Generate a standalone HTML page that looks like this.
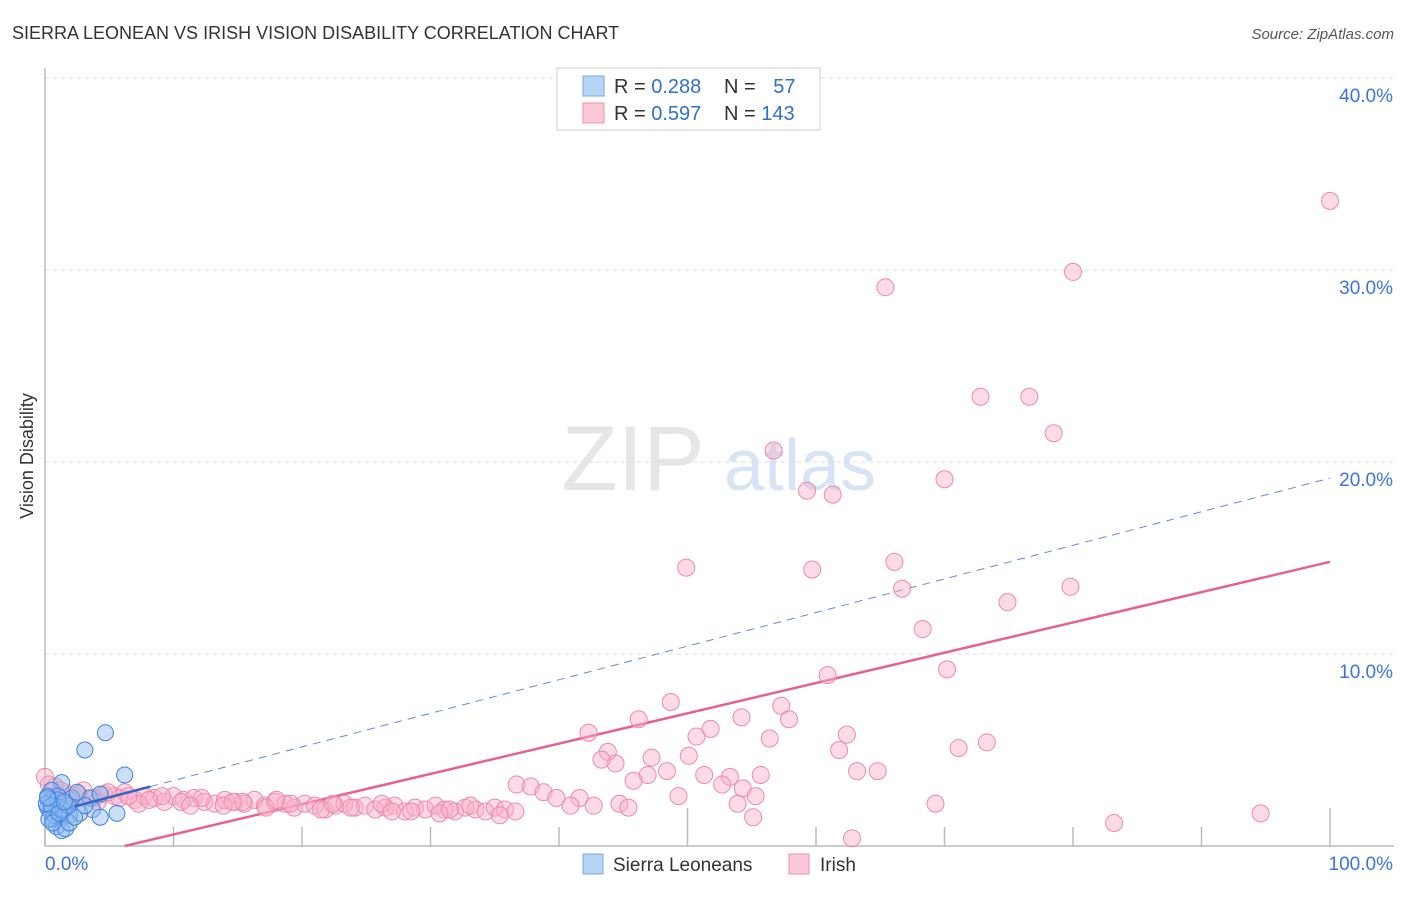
<!DOCTYPE html>
<html><head><meta charset="utf-8"><style>
body{margin:0;background:#fff;font-family:"Liberation Sans",sans-serif}
svg text{font-family:"Liberation Sans",sans-serif}
</style></head><body>
<svg id="chart" width="1406" height="892" viewBox="0 0 1406 892" xmlns="http://www.w3.org/2000/svg">
<text x="12" y="39" font-size="18" fill="#333">SIERRA LEONEAN VS IRISH VISION DISABILITY CORRELATION CHART</text>
<text x="1394" y="39" font-size="15" fill="#555" text-anchor="end" font-style="italic">Source: ZipAtlas.com</text>
<text x="33" y="456" font-size="18" fill="#333" text-anchor="middle" transform="rotate(-90 33 456)">Vision Disability</text>
<g>
<text x="633" y="490" font-size="92" fill="#e6e6e6" font-family="Liberation Serif" text-anchor="middle">ZIP</text>
<text x="800" y="490" font-size="72" fill="#d6e4f5" text-anchor="middle">atlas</text>
</g>
<g id="grid"></g>
<g id="axes"></g>
<g id="lines"></g>
<g id="pts"></g>
<g>
<rect x="557" y="68" width="263" height="62" fill="#fff" stroke="#ccc"/>
<rect x="583" y="76" width="21" height="20" fill="#b8d4f5" stroke="#7aa8e0"/>
<rect x="583" y="103" width="21" height="20" fill="#fbc8d8" stroke="#ef8fae"/>
<text x="614" y="93" font-size="20" fill="#333">R = <tspan fill="#2f6fcf">0.288</tspan></text>
<text x="724" y="93" font-size="20" fill="#333">N = <tspan fill="#2f6fcf" dx="12">57</tspan></text>
<text x="614" y="120" font-size="20" fill="#333">R = <tspan fill="#2f6fcf">0.597</tspan></text>
<text x="724" y="120" font-size="20" fill="#333">N = <tspan fill="#2f6fcf">143</tspan></text>
</g>
<g>
<rect x="583" y="854" width="20" height="20" fill="#b8d4f5" stroke="#7aa8e0"/>
<text x="613" y="871" font-size="19" fill="#333">Sierra Leoneans</text>
<rect x="789" y="854" width="20" height="20" fill="#fbc8d8" stroke="#ef8fae"/>
<text x="820" y="871" font-size="19" fill="#333">Irish</text>
</g>
</svg>
<script>
const yTicks=[10,20,30,40];
const yTickLabels=["10.0%","20.0%","30.0%","40.0%"];
const xTickLabels=["0.0%","100.0%"];
const blueX=[4.7,3.1,6.2,1.3,0.5,1.0,0.4,0.8,0.2,1.6,2.1,3.5,4.3,3.7,2.7,1.9,1.2,0.6,0.9,1.3,1.6,1.9,2.3,5.6,4.3,3.1,0.2,0.4,0.7,0.1,1.4,1.8,1.0,0.5,0.2,0.3,0.6,1.1,1.5,2.5];
const blueY=[5.9,5.0,3.7,3.3,2.9,2.6,2.4,2.1,2.0,2.2,2.5,2.5,2.7,1.9,1.7,1.6,1.5,1.4,1.0,0.8,0.9,1.2,1.5,1.7,1.5,2.1,2.6,1.8,1.6,2.2,1.9,2.1,2.4,2.1,2.5,1.4,1.2,1.7,2.3,2.8];
const pinkX=[100,80,65.4,72.8,76.6,78.5,56.7,70,59.3,61.3,49.9,59.7,66.1,66.7,74.9,79.8,68.3,70.2,60.9,48.7,57.3,46.2,54.2,57.9,51.8,42.3,50.7,56.4,62.4,73.3,71.1,61.8,43.8,44.4,47.2,43.3,48.4,50.1,63.2,64.8,51.3,46.9,53.3,55.7,45.8,52.7,36.7,37.8,54.3,49.3,55.3,38.8,41.6,44.7,69.3,53.9,42.7,45.4,55.1,83.2,94.6,62.8,40.9,39.8,
0,0.8,1.5,2.3,3,3.8,4.6,5.4,6.2,7,7.7,8.5,9.3,10,10.8,11.6,12.4,13.2,14,14.8,15.5,16.3,17.1,17.9,18.7,19.4,20.2,21,21.8,22.6,23.3,24.1,24.9,25.7,26.5,27.2,28,28.8,29.6,30.4,31.1,31.9,32.7,33.5,34.3,35,35.8,36.6,1.2,2.6,4.1,5.8,7.3,9.1,10.6,12.2,13.9,15.4,17.2,19.1,21.5,23.8,26.2,28.5,30.7,33.1,35.4,0.3,1.8,4.9,8.1,11.3,14.6,18,22.4,27,31.5,6.5];
const pinkY=[33.6,29.9,29.1,23.4,23.4,21.5,20.6,19.1,18.5,18.3,14.5,14.4,14.8,13.4,12.7,13.5,11.3,9.2,8.9,7.5,7.3,6.6,6.7,6.6,6.1,5.9,5.7,5.6,5.8,5.4,5.1,5.0,4.9,4.3,4.6,4.5,3.9,4.7,3.9,3.9,3.7,3.7,3.6,3.7,3.4,3.2,3.2,3.1,3.0,2.6,2.6,2.8,2.5,2.2,2.2,2.2,2.1,2.0,1.5,1.2,1.7,0.4,2.1,2.5,
3.6,3.1,2.8,2.6,2.9,2.5,2.7,2.6,2.8,2.4,2.6,2.5,2.3,2.6,2.4,2.5,2.3,2.2,2.4,2.3,2.2,2.4,2.1,2.3,2.2,2.0,2.2,2.1,1.9,2.1,2.2,2.0,2.1,1.9,2.0,2.1,1.8,2.0,1.9,2.1,1.9,1.8,2.0,1.9,1.8,2.0,1.9,1.8,2.9,2.7,2.3,2.5,2.2,2.6,2.3,2.5,2.1,2.3,2.0,2.2,1.9,2.0,2.2,1.8,1.7,2.1,1.6,3.2,2.4,2.8,2.4,2.1,2.3,2.4,2.2,1.8,1.9,2.6];
const pinkFit=[6.2,100,0,14.8];
const blueFit=[1.66,0.175];
const X=v=>45+v*12.85, Y=v=>846-v*19.2;
const NS="http://www.w3.org/2000/svg";
function mk(parent,tag,attrs){const e=document.createElementNS(NS,tag);for(const k in attrs)e.setAttribute(k,attrs[k]);document.getElementById(parent).appendChild(e);return e;}
yTicks.forEach((t,i)=>{
 const g=mk('grid','line',{x1:45,x2:1394,y1:Y(t),y2:Y(t),stroke:'#ddd','stroke-dasharray':'4,4'});
 
 
 const l=mk('grid','text',{x:1393,y:Y(t)+24,'font-size':19,fill:'#3a74d4','text-anchor':'end'});l.textContent=yTickLabels[i];
 
 
});
const ax=mk('axes','path',{d:'M45,68 V846 H1394',stroke:'#bbb',fill:'none','stroke-width':1.5});


for(let i=0;i<=10;i++){const tk=mk('axes','line',{x1:X(i*10),x2:X(i*10),y1:(i==5||i==10)?808:827,y2:846,stroke:'#bbb','stroke-width':1.5});
 
 }
[[0,'start',45],[100,'end',1393]].forEach((d,i)=>{const t=mk('axes','text',{x:d[2],y:870,'font-size':19,fill:'#3a74d4','text-anchor':d[1]});t.textContent=xTickLabels[i];
 
 });
const bd=mk('lines','line',{x1:X(8.2),y1:Y(blueFit[0]+blueFit[1]*8.2),x2:X(100),y2:Y(blueFit[0]+blueFit[1]*100),stroke:'#5b8fd8','stroke-width':1,'stroke-dasharray':'8,6'});


const pl=mk('lines','line',{x1:X(pinkFit[0]),y1:Y(pinkFit[2]),x2:X(pinkFit[1]),y2:Y(pinkFit[3]),stroke:'#e8608f','stroke-width':2.5});


pinkX.forEach((x,i)=>{const c=mk('pts','circle',{cx:X(x),cy:Y(pinkY[i]),r:8.5,fill:'rgba(248,176,200,0.45)',stroke:'#ec8aac','stroke-width':1});
 
 });
blueX.forEach((x,i)=>{const c=mk('pts','circle',{cx:X(x),cy:Y(blueY[i]),r:8,fill:'rgba(140,185,240,0.45)',stroke:'#3f82dc','stroke-width':1});
 
 });
const bs=mk('lines','line',{x1:X(2.3),y1:Y(blueFit[0]+blueFit[1]*2.3),x2:X(8.2),y2:Y(blueFit[0]+blueFit[1]*8.2),stroke:'#3563c8','stroke-width':2.5});


document.getElementById('pts').parentNode.appendChild(bs);
</script>
</body></html>
